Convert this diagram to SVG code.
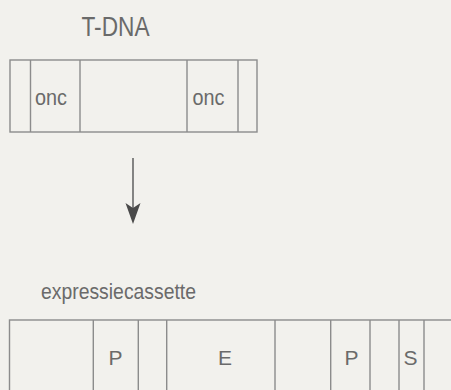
<svg xmlns="http://www.w3.org/2000/svg" width="451" height="390" viewBox="0 0 451 390">
<style>
.box{fill:none;stroke:#8c8c8c;stroke-width:1.4}
.div{stroke:#8c8c8c;stroke-width:1.4}
text{font-family:"Liberation Sans",Arial,sans-serif;fill:#6a6a6a}
.conn{stroke:#555;stroke-width:1.4;fill:none}
</style>
<defs>
<marker id="ah" markerUnits="userSpaceOnUse" markerWidth="16" markerHeight="22" refX="8" refY="6" orient="auto" viewBox="0 0 16 22" overflow="visible">
<path d="M0.5,1 L8,6 L15.5,1 L8,22 Z" fill="#4a4a4a" transform="rotate(-90 8 6)"/>
</marker>
</defs>
<rect width="451" height="390" fill="#f2f1ed"/>
<g id="tdna">
<text x="81.5" y="36" font-size="27" textLength="68" lengthAdjust="spacingAndGlyphs">T-DNA</text>
<rect class="box" x="10" y="60" width="247" height="72"/>
<line class="div" x1="30.5" y1="60" x2="30.5" y2="132"/>
<line class="div" x1="80" y1="60" x2="80" y2="132"/>
<line class="div" x1="187" y1="60" x2="187" y2="132"/>
<line class="div" x1="238" y1="60" x2="238" y2="132"/>
<text x="35" y="105" font-size="22" textLength="32" lengthAdjust="spacingAndGlyphs">onc</text>
<text x="192.5" y="105" font-size="22" textLength="32" lengthAdjust="spacingAndGlyphs">onc</text>
</g>
<g id="connectors">
<path class="conn" d="M133,158 L133,208" marker-end="url(#ah)"/>
</g>
<g id="cassette">
<text x="41" y="299" font-size="22" textLength="155" lengthAdjust="spacingAndGlyphs">expressiecassette</text>
<rect class="box" x="9.5" y="320" width="460" height="90"/>
<line class="div" x1="93.3" y1="320" x2="93.3" y2="390"/>
<line class="div" x1="138.3" y1="320" x2="138.3" y2="390"/>
<line class="div" x1="166.7" y1="320" x2="166.7" y2="390"/>
<line class="div" x1="275" y1="320" x2="275" y2="390"/>
<line class="div" x1="330.7" y1="320" x2="330.7" y2="390"/>
<line class="div" x1="370" y1="320" x2="370" y2="390"/>
<line class="div" x1="399" y1="320" x2="399" y2="390"/>
<line class="div" x1="424" y1="320" x2="424" y2="390"/>
<text x="115.5" y="365" font-size="21" text-anchor="middle">P</text>
<text x="225" y="365" font-size="21" text-anchor="middle">E</text>
<text x="351.5" y="365" font-size="21" text-anchor="middle">P</text>
<text x="410.5" y="365" font-size="21" text-anchor="middle">S</text>
</g>
</svg>
